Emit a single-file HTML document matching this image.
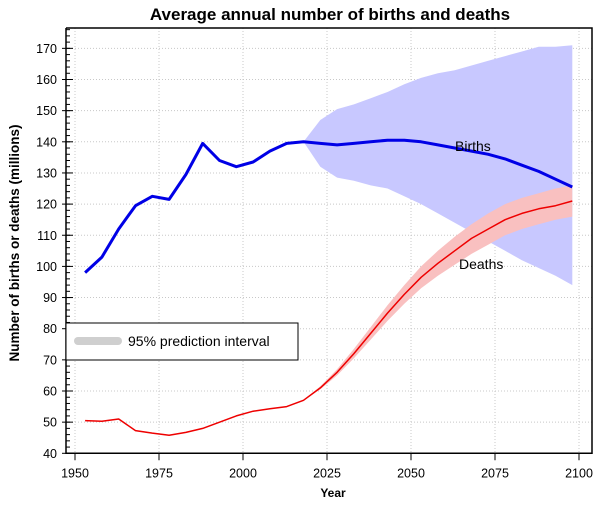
<!DOCTYPE html>
<html><head><meta charset="utf-8"><style>
html,body{margin:0;padding:0;background:#fff;}
svg text{font-family:"Liberation Sans",Arial,sans-serif;}
</style></head><body>
<svg id="chart" width="610" height="505" viewBox="0 0 610 505" xmlns="http://www.w3.org/2000/svg">
<text x="330" y="20" text-anchor="middle" font-size="17" font-weight="bold">Average annual number of births and deaths</text>
<text transform="translate(19,243) rotate(-90)" text-anchor="middle" font-size="13.5" font-weight="bold">Number of births or deaths (millions)</text>
<text x="333" y="497" text-anchor="middle" font-size="12" font-weight="bold">Year</text>
<g id="grid"></g><g id="marks"></g><g id="axes"></g>
<g>
<rect x="66" y="323" width="232" height="37" fill="#fff" stroke="#000" stroke-width="1"/>
<line x1="78" y1="341" x2="118" y2="341" stroke="#cfcfcf" stroke-width="8" stroke-linecap="round"/>
<text x="128" y="346" font-size="14">95% prediction interval</text>
</g>
<text x="455" y="151" font-size="14">Births</text>
<text x="459" y="269" font-size="14">Deaths</text>
</svg>
<script>
const years=[1953,1958,1963,1968,1973,1978,1983,1988,1993,1998,2003,2008,2013,2018,2023,2028,2033,2038,2043,2048,2053,2058,2063,2068,2073,2078,2083,2088,2093,2098];
const births=[98,103,112,119.5,122.5,121.5,129.5,139.5,134,132,133.5,137,139.5,140,139.5,139,139.5,140,140.5,140.5,140,139,138,137,136,134.5,132.5,130.5,128,125.5];
const deaths=[50.5,50.3,51,47.3,46.5,45.8,46.7,48,50,52,53.5,54.3,55,57,61,66,72,78.5,85,91,96.5,101,105,109,112,115,117,118.5,119.5,121];
const piYears=[2018,2023,2028,2033,2038,2043,2048,2053,2058,2063,2068,2073,2078,2083,2088,2093,2098];
const birthHi=[140,147,150.5,152,154,156,158.5,160.5,162,163,164.5,166,167.5,169,170.5,170.5,171];
const birthLo=[140,132,128.5,127.5,126,125,122.5,120,117,114,111,108,105,102,99.5,97,94];
const deathHi=[57,61.5,67,73.5,80.5,87.5,94,100,105,109.5,113.5,117,120,122,123.5,125,126];
const deathLo=[57,60.5,65,70.5,76.5,82.5,88,93,97,100.5,104,107,110,112,113.5,115,116];
const xTicks=[1950,1975,2000,2025,2050,2075,2100];
const yTicks=[40,50,60,70,80,90,100,110,120,130,140,150,160,170];
const NS="http://www.w3.org/2000/svg";
const L=66,R=592,T=28,B=453.3;
const X=y=>75+(y-1950)*(84/25);
const Y=v=>B-(v-40)*3.115;
function mk(tag,attrs,parent){const e=document.createElementNS(NS,tag);for(const k in attrs)e.setAttribute(k,attrs[k]);document.getElementById(parent).appendChild(e);return e;}
function pts(xs,vs){return xs.map((x,i)=>X(x).toFixed(1)+','+Y(vs[i]).toFixed(1)).join(' ');}
function band(xs,hi,lo){return pts(xs,hi)+' '+pts(xs.slice().reverse(),lo.slice().reverse());}
// grid
xTicks.forEach(t=>{const g=mk('line',{x1:X(t),x2:X(t),y1:T,y2:B,stroke:'#c8c8c8','stroke-dasharray':'1,2'},'grid');

});
yTicks.forEach(t=>{const g=mk('line',{x1:L,x2:R,y1:Y(t),y2:Y(t),stroke:'#c8c8c8','stroke-dasharray':'1,2'},'grid');

});
// marks
const bb=mk('polygon',{points:band(piYears,birthHi,birthLo),fill:'#c8c8ff'},'marks');


const db=mk('polygon',{points:band(piYears,deathHi,deathLo),fill:'#f9c0c0'},'marks');


const bl=mk('polyline',{points:pts(years,births),fill:'none',stroke:'#0000e6','stroke-width':3,'stroke-linejoin':'round'},'marks');


const dl=mk('polyline',{points:pts(years,deaths),fill:'none',stroke:'#ee0000','stroke-width':1.5,'stroke-linejoin':'round'},'marks');


// axes
const fr=mk('polyline',{points:`${L},${T} ${R},${T} ${R},${B} ${L},${B} ${L},${T}`,fill:'none',stroke:'#000','stroke-width':1.5},'axes');


for(let v=40;v<=176;v+=2){mk('line',{x1:L,x2:L+4,y1:Y(v),y2:Y(v),stroke:'#000'},'axes');}
yTicks.forEach(t=>{mk('line',{x1:L-4,x2:L+7,y1:Y(t),y2:Y(t),stroke:'#000'},'axes');
const tx=mk('text',{x:L-9,y:Y(t)+4.5,'text-anchor':'end','font-size':12.5},'axes');tx.textContent=t;

});
xTicks.forEach(t=>{mk('line',{x1:X(t),x2:X(t),y1:B,y2:B+7,stroke:'#000'},'axes');
const tx=mk('text',{x:X(t),y:B+24,'text-anchor':'middle','font-size':12.5},'axes');tx.textContent=t;

});
</script>
</body></html>
